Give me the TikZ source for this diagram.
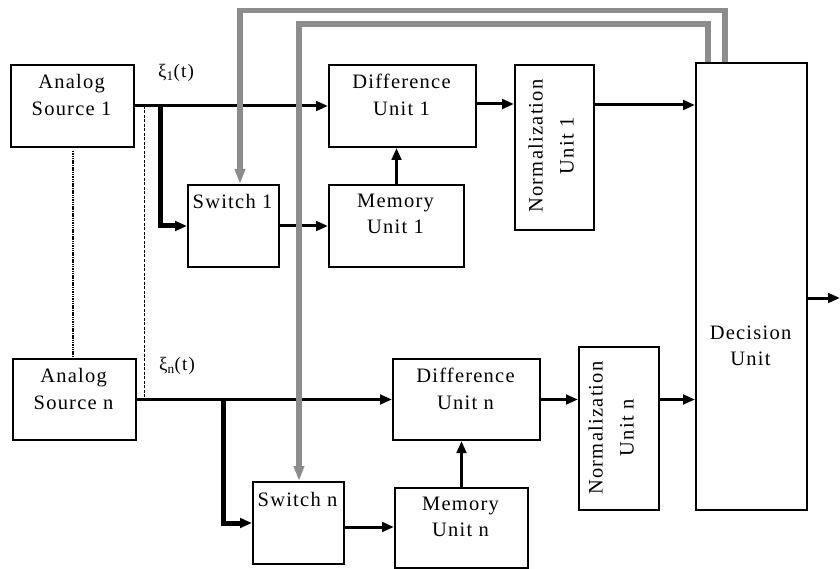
\documentclass[tikz,border=0pt]{standalone}
\usepackage{fontspec}
\setmainfont{Liberation Serif}[LetterSpace=6]
\usetikzlibrary{arrows.meta}
\begin{document}
\begin{tikzpicture}[x=1pt,y=-1pt,
  box/.style={draw,line width=2pt,inner sep=0pt,anchor=north west},
  txt/.style={align=center,inner sep=0pt,font=\fontsize{20.5}{26.5}\selectfont},
  rtxt/.style={align=center,inner sep=0pt,rotate=90,font=\fontsize{20.5}{31}\selectfont},
  lab/.style={inner sep=0pt,font=\fontsize{19}{22}\selectfont},
  conn/.style={line width=3pt,-{Triangle[length=12pt,width=9.5pt]}},
  thick conn/.style={line width=5pt,-{Triangle[length=12pt,width=9.5pt]}},
  feed/.style={line width=5.5pt,draw=black!45,-{Triangle[length=15pt,width=10pt]},color=black!45}]
\useasboundingbox (0,0) rectangle (840,569);
% boxes
\node[box,minimum width=123pt,minimum height=82pt] (src1) at (10,64) {};
\node[box,minimum width=123pt,minimum height=81pt] (srcn) at (12,358) {};
\node[box,minimum width=91pt,minimum height=82pt] (sw1) at (187,184) {};
\node[box,minimum width=91pt,minimum height=82pt] (swn) at (252,481) {};
\node[box,minimum width=147pt,minimum height=82pt] (diff1) at (328,64) {};
\node[box,minimum width=147pt,minimum height=81pt] (diffn) at (392,358) {};
\node[box,minimum width=135pt,minimum height=82pt] (mem1) at (328,184) {};
\node[box,minimum width=133pt,minimum height=80pt] (memn) at (394,487) {};
\node[box,minimum width=79pt,minimum height=165pt] (norm1) at (514,64) {};
\node[box,minimum width=80pt,minimum height=163pt] (normn) at (578,346) {};
\node[box,minimum width=111pt,minimum height=447pt] (dec) at (695,62) {};
% texts
\node[txt] (src1t) at (71.5,95) {Analog\\Source 1};
\node[txt] (srcnt) at (73.5,389) {Analog\\Source n};
\node[txt] (sw1t) at (232.5,201) {Switch 1};
\node[txt] (swnt) at (297.5,499) {Switch n};
\node[txt] (diff1t) at (401.5,95) {Difference\\Unit 1};
\node[txt] (diffnt) at (465.5,389) {Difference\\Unit n};
\node[txt] (mem1t) at (395.5,214) {Memory\\Unit 1};
\node[txt] (memnt) at (460.5,517) {Memory\\Unit n};
\node[rtxt] (norm1t) at (551,146) {Normalization\\Unit 1};
\node[rtxt] (normnt) at (611,428) {Normalization\\Unit n};
\node[txt] (dect) at (750.5,346) {Decision\\Unit};
\node[lab] (xi1) at (176,73) {ξ\textsubscript{1}(t)};
\node[lab] (xin) at (177,366) {ξ\textsubscript{n}(t)};
% dotted / dashed guides
\draw[line width=2pt,dash pattern=on 1.5pt off 0.8pt] (src1.south) ++(0,3) -- (src1.south |- srcn.north) ++(0,-4);
\coordinate (b1) at (160,105);
\coordinate (bn) at (223,398.5);
\coordinate (dl) at (144,0);
\draw[line width=1pt,dash pattern=on 3pt off 1.5pt] (dl |- src1.east) -- (dl |- srcn.east);
% connectors, channel 1
\draw[conn] (src1.east) -- (diff1.west);
\draw[thick conn] (b1) |- (sw1.west);
\draw[conn] (sw1.east) -- (mem1.west);
\draw[conn] (mem1.north) -- (mem1.north |- diff1.south);
\draw[conn] ([yshift=2pt]diff1.east) -- ([yshift=2pt]diff1.east -| norm1.west);
\draw[conn] ([yshift=1pt]norm1.east |- diff1.east) -- ([yshift=1pt]dec.west |- diff1.east);
% connectors, channel n
\draw[conn] (srcn.east) -- (diffn.west);
\draw[thick conn] (bn) |- (swn.west);
\draw[conn] ([yshift=-4pt]swn.east) -- ([yshift=-4pt]swn.east -| memn.west);
\draw[conn] (memn.north) -- (memn.north |- diffn.south);
\draw[conn] (diffn.east) -- (diffn.east -| normn.west);
\draw[conn] (normn.east |- diffn.east) -- (dec.west |- diffn.east);
% output
\coordinate (out) at (840,298);
\draw[conn] (out -| dec.east) -- (out);
% feedback lines
\coordinate (g1) at (725,10.5);
\coordinate (g1a) at (240,10.5);
\coordinate (g2) at (708,24);
\coordinate (g2a) at (299,24);
\draw[feed] (g1 |- dec.north) -- (g1) -- (g1a) -- (g1a |- sw1.north);
\draw[feed] (g2 |- dec.north) -- (g2) -- (g2a) -- (g2a |- swn.north);
\end{tikzpicture}
\end{document}
